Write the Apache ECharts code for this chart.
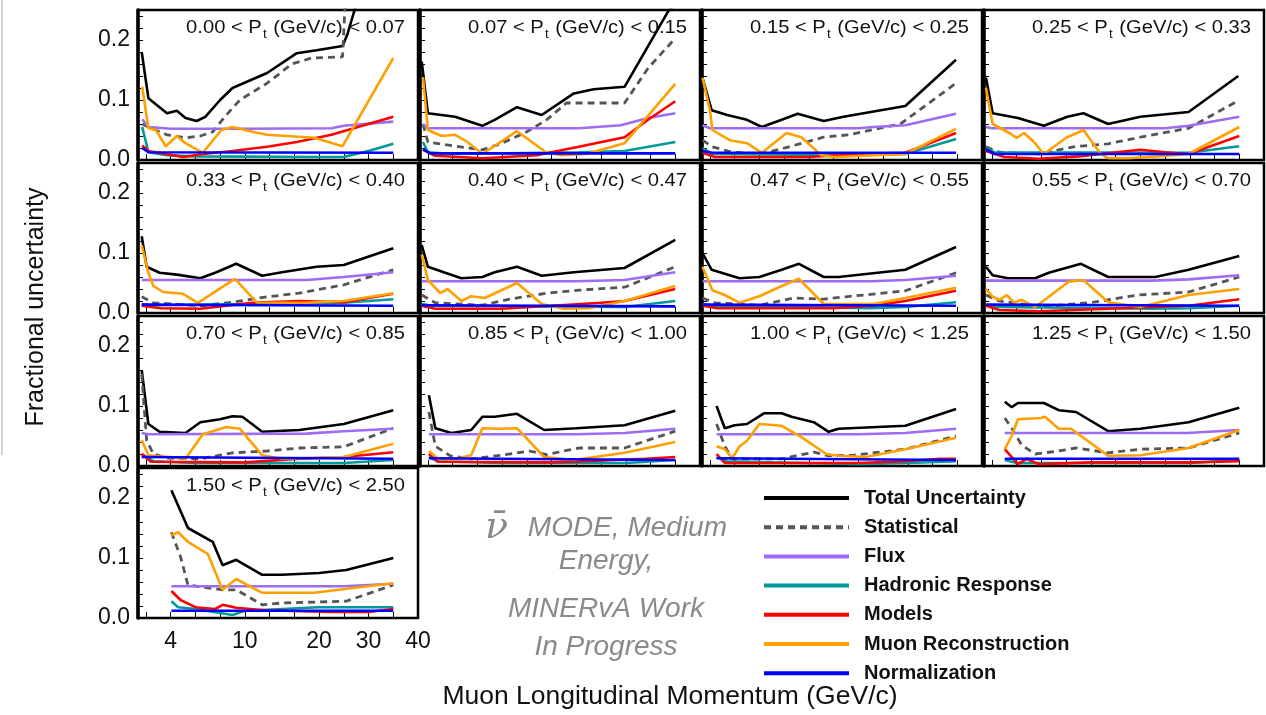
<!DOCTYPE html>
<html>
<head>
<meta charset="utf-8">
<title>Fractional uncertainty vs muon longitudinal momentum</title>
<script src="https://cdn.jsdelivr.net/npm/echarts@6/dist/echarts.min.js"></script>
<style>
  html, body { margin: 0; padding: 0; background: #fff; }
  #chart { width: 1266px; height: 715px; }
</style>
</head>
<body>
<div id="chart"></div>
<script>
// Pt bin edges, one panel per bin
var ptEdges = ['0.00', '0.07', '0.15', '0.25', '0.33', '0.40', '0.47', '0.55', '0.70', '0.85', '1.00', '1.25', '1.50', '2.50'];

var seriesNames = ['Total Uncertainty', 'Statistical', 'Flux', 'Hadronic Response', 'Models', 'Muon Reconstruction', 'Normalization'];
var seriesColors = ['#000000', '#555555', '#9d6cf4', '#009a9a', '#ff0000', '#ffa000', '#0000ff'];

// x axis is in bin-position units (tick i = bin edge i)
var xTickPos = [0, 1, 2, 3, 4, 5, 6, 7, 8, 9, 10];
var xLabelPos = [1, 4, 7, 9, 11];
var xTickLabels = ['4', '10', '20', '30', '40'];
var yLabelValues = [0, 0.1, 0.2];

// [bin position, fractional uncertainty], one list per panel
var totalUnc = [
  [[-0.17,0.18],[0.1,0.103],[0.85,0.078],[1.25,0.082],[1.6,0.07],[2.05,0.065],[2.4,0.072],[3,0.1],[3.5,0.12],[4.9,0.145],[6.1,0.178],[6.9,0.183],[7.95,0.19],[8.15,0.21],[8.4,0.245],[8.6,0.27]],
  [[-0.25,0.164],[0,0.078],[0.55,0.075],[1.1,0.072],[2.2,0.057],[2.7,0.067],[3.6,0.088],[4.6,0.075],[5.9,0.111],[6.7,0.118],[7.95,0.122],[9.7,0.247],[10,0.26]],
  [[-0.3,0.137],[0.07,0.083],[0.7,0.075],[1.5,0.067],[2.1,0.055],[2.9,0.067],[3.55,0.077],[4.6,0.065],[5.4,0.072],[7.9,0.09],[9.95,0.167]],
  [[-0.24,0.137],[0.03,0.078],[1.05,0.07],[2.1,0.057],[3.05,0.072],[3.7,0.078],[4.7,0.06],[6,0.072],[7.95,0.08],[9.96,0.14]],
  [[-0.17,0.128],[0.03,0.077],[0.55,0.067],[1.25,0.064],[2.2,0.058],[2.85,0.068],[3.65,0.082],[4.7,0.062],[5.5,0.068],[6.9,0.077],[8,0.08],[10,0.108]],
  [[-0.25,0.113],[0,0.077],[0.7,0.067],[1.35,0.058],[2.2,0.06],[2.7,0.068],[3.6,0.077],[4.6,0.062],[5.9,0.068],[7.95,0.075],[10,0.122]],
  [[-0.3,0.1],[0.07,0.072],[0.7,0.064],[1.2,0.058],[2,0.06],[2.9,0.072],[3.6,0.082],[4.6,0.06],[5.2,0.06],[7.9,0.072],[9.95,0.11]],
  [[-0.24,0.077],[0.03,0.063],[0.65,0.058],[1.75,0.058],[2.3,0.067],[3.6,0.082],[4.7,0.06],[6.6,0.06],[7.95,0.072],[10,0.095]],
  [[-0.17,0.16],[0.1,0.07],[0.55,0.057],[1.6,0.055],[2.2,0.073],[3,0.078],[3.5,0.083],[3.9,0.082],[4.7,0.057],[6.2,0.06],[8,0.07],[10,0.093]],
  [[0.04,0.118],[0.3,0.063],[0.95,0.055],[1.75,0.06],[2.2,0.082],[2.7,0.082],[3.6,0.087],[4.7,0.06],[6,0.063],[7.95,0.068],[10,0.092]],
  [[0.27,0.1],[0.6,0.063],[1,0.068],[1.5,0.07],[2.2,0.088],[2.9,0.088],[3.3,0.082],[4.2,0.073],[4.8,0.057],[5.2,0.062],[7.9,0.067],[9.95,0.095]],
  [[0.52,0.107],[0.8,0.098],[1.05,0.105],[2.1,0.105],[2.7,0.093],[3.4,0.09],[4.7,0.058],[6,0.062],[7.95,0.073],[10,0.097]],
  [[1.03,0.213],[1.7,0.15],[2.7,0.127],[3.1,0.088],[3.65,0.097],[4.7,0.072],[5.5,0.072],[7,0.075],[8.1,0.08],[10,0.1]]
];

var statUnc = [
  [[-0.15,0.06],[0.1,0.055],[0.85,0.042],[1.6,0.037],[2.2,0.04],[2.7,0.047],[3.25,0.075],[3.8,0.1],[4.9,0.128],[5.9,0.16],[6.7,0.17],[7.95,0.172],[8.1,0.3]],
  [[-0.2,0.06],[0,0.03],[1.1,0.023],[2.2,0.017],[3,0.028],[4,0.047],[4.8,0.067],[5.6,0.095],[7.95,0.095],[8.9,0.153],[10,0.203]],
  [[-0.3,0.033],[0.1,0.022],[0.9,0.013],[2.1,0.01],[3.2,0.022],[4.6,0.038],[5.6,0.042],[7.7,0.06],[9.95,0.128]],
  [[-0.24,0.022],[0.3,0.013],[1.9,0.01],[3.3,0.022],[4.7,0.027],[6,0.038],[7.95,0.053],[9.7,0.093],[10,0.1]],
  [[-0.17,0.027],[0.3,0.017],[2.2,0.012],[3.5,0.018],[4.9,0.027],[6.2,0.033],[8,0.047],[10,0.072]],
  [[-0.25,0.03],[0.3,0.017],[2.2,0.013],[3.3,0.023],[4.8,0.033],[6.1,0.038],[7.95,0.043],[10,0.077]],
  [[-0.3,0.025],[0.2,0.017],[2,0.013],[3.4,0.025],[4.6,0.023],[5.5,0.027],[7.9,0.037],[9.95,0.067]],
  [[-0.24,0.03],[0.3,0.02],[0.9,0.017],[1.9,0.01],[3.3,0.015],[4.1,0.018],[5.9,0.03],[7.95,0.035],[10,0.06]],
  [[-0.17,0.153],[0.03,0.043],[0.3,0.02],[0.9,0.013],[2.2,0.012],[3.5,0.022],[4.9,0.025],[6.2,0.03],[8,0.032],[10,0.063]],
  [[0.04,0.09],[0.3,0.033],[0.9,0.017],[1.75,0.012],[3,0.018],[4.1,0.025],[4.8,0.019],[6.1,0.03],[7.95,0.03],[10,0.058]],
  [[0.27,0.07],[0.6,0.033],[0.9,0.012],[2.9,0.012],[4.2,0.023],[4.8,0.017],[5.8,0.018],[7.9,0.028],[9.95,0.05]],
  [[0.52,0.08],[0.8,0.063],[1.2,0.035],[1.75,0.02],[2.7,0.025],[3.4,0.03],[4.7,0.022],[6,0.028],[7.95,0.03],[10,0.055]],
  [[1.03,0.143],[1.4,0.102],[1.7,0.055],[3.1,0.047],[3.65,0.047],[4.7,0.022],[5.5,0.025],[8.1,0.028],[10,0.055]]
];

var fluxUnc = [
  [[-0.15,0.068],[0.1,0.055],[1,0.052],[4,0.052],[7.5,0.053],[8,0.057],[10,0.064]],
  [[-0.2,0.06],[0,0.053],[6.1,0.053],[7.8,0.058],[8.9,0.07],[10,0.078]],
  [[-0.3,0.058],[0,0.053],[6,0.053],[6.6,0.055],[7.9,0.058],[9.95,0.077]],
  [[-0.24,0.055],[0,0.053],[7,0.053],[7.95,0.057],[10,0.072]],
  [[-0.17,0.055],[6.5,0.055],[8,0.06],[10,0.068]],
  [[-0.25,0.053],[6,0.053],[7.95,0.055],[10,0.068]],
  [[-0.3,0.053],[6.5,0.053],[7.9,0.055],[9.95,0.062]],
  [[-0.24,0.054],[6.5,0.054],[7.95,0.056],[10,0.063]],
  [[-0.17,0.055],[0.1,0.053],[6.5,0.054],[8,0.058],[10,0.062]],
  [[0.04,0.053],[6,0.053],[7.95,0.055],[10,0.062]],
  [[0.27,0.053],[6,0.053],[7.9,0.055],[9.95,0.062]],
  [[0.52,0.055],[7.9,0.055],[10,0.06]],
  [[1.03,0.053],[8,0.053],[10,0.057]]
];

var hadronUnc = [
  [[-0.15,0.055],[0.1,0.013],[0.85,0.008],[2,0.006],[7,0.005],[8,0.005],[9,0.015],[10,0.027]],
  [[-0.2,0.03],[0,0.013],[1,0.01],[6.1,0.013],[7.95,0.015],[10,0.03]],
  [[-0.3,0.02],[0.1,0.01],[6,0.008],[7.9,0.01],[9.95,0.035]],
  [[-0.24,0.02],[0.1,0.013],[7.95,0.012],[10,0.023]],
  [[-0.17,0.015],[0.2,0.013],[8,0.017],[10,0.023]],
  [[-0.25,0.015],[0.2,0.012],[7.95,0.01],[10,0.02]],
  [[-0.3,0.015],[0.2,0.012],[6.5,0.008],[7.9,0.01],[9.95,0.018]],
  [[-0.24,0.013],[0.3,0.01],[6.5,0.007],[8,0.008],[10,0.012]],
  [[-0.17,0.02],[0.3,0.008],[2,0.005],[8,0.005],[10,0.01]],
  [[0.04,0.015],[0.4,0.008],[3,0.005],[8,0.005],[10,0.01]],
  [[0.27,0.015],[0.7,0.008],[6,0.003],[8,0.005],[9.95,0.008]],
  [[0.52,0.01],[1,0.005],[8,0.005],[10,0.01]],
  [[1.03,0.028],[1.3,0.018],[2,0.015],[3.5,0.005],[4,0.012],[7,0.018],[10,0.018]]
];

var modelUnc = [
  [[-0.15,0.024],[0.1,0.015],[1.5,0.005],[2.3,0.01],[3.5,0.015],[4.9,0.022],[6.1,0.03],[7.5,0.042],[10,0.072]],
  [[-0.2,0.017],[0.3,0.007],[2.2,0.003],[4.4,0.008],[6.1,0.022],[7.95,0.038],[8.9,0.067],[10,0.098]],
  [[-0.3,0.012],[0.2,0.005],[4,0.005],[6,0.01],[7.9,0.012],[9.95,0.045]],
  [[-0.24,0.015],[0.5,0.005],[1.9,0.002],[3.5,0.006],[6,0.017],[7,0.013],[7.95,0.01],[10,0.04]],
  [[-0.17,0.012],[0.6,0.008],[2.2,0.007],[4.3,0.017],[6.2,0.02],[8,0.018],[10,0.032]],
  [[-0.25,0.012],[0.3,0.007],[3,0.007],[5,0.012],[7,0.017],[7.95,0.02],[10,0.04]],
  [[-0.3,0.012],[0.3,0.008],[5,0.008],[6.6,0.012],[7.9,0.02],[9.95,0.037]],
  [[-0.24,0.012],[0.3,0.005],[1.9,0.003],[4.7,0.007],[7.95,0.012],[10,0.023]],
  [[-0.17,0.02],[0.2,0.007],[4,0.006],[6.2,0.012],[8,0.015],[10,0.023]],
  [[0.04,0.02],[0.4,0.007],[5,0.006],[8.8,0.012],[10,0.015]],
  [[0.27,0.02],[0.6,0.005],[6,0.005],[7.9,0.008],[9.3,0.012],[9.95,0.012]],
  [[0.52,0.028],[1.05,0.003],[1.4,0.012],[1.9,0.003],[4,0.006],[8,0.006],[10,0.008]],
  [[1.03,0.045],[1.4,0.03],[2,0.018],[2.8,0.015],[3.1,0.022],[3.65,0.017],[4.8,0.013],[7.5,0.01],[9,0.01],[10,0.015]]
];

var muonUnc = [
  [[-0.15,0.122],[0.1,0.053],[0.4,0.05],[0.8,0.023],[1.25,0.04],[1.6,0.028],[2.3,0.012],[3.05,0.05],[3.5,0.055],[4.3,0.047],[4.9,0.042],[6.8,0.037],[7.95,0.023],[10,0.17]],
  [[-0.2,0.138],[0,0.05],[0.55,0.04],[1.1,0.042],[1.6,0.03],[2.2,0.01],[3.6,0.048],[4.8,0.012],[5.4,0.008],[6.4,0.01],[7.95,0.028],[10,0.127]],
  [[-0.3,0.137],[0,0.083],[0.1,0.05],[0.8,0.033],[1.5,0.028],[2.1,0.012],[3.1,0.045],[3.7,0.038],[4.5,0.008],[5,0.005],[7.9,0.01],[9.95,0.052]],
  [[-0.24,0.12],[0.03,0.06],[0.7,0.045],[1,0.037],[1.3,0.045],[1.7,0.03],[2.1,0.01],[3,0.037],[3.7,0.05],[4.4,0.01],[4.7,0.003],[5.5,0.003],[6.7,0.006],[7.95,0.01],[10,0.055]],
  [[-0.17,0.113],[0.1,0.067],[0.3,0.045],[0.7,0.035],[1.5,0.032],[2.1,0.017],[3.6,0.057],[4.5,0.017],[6.5,0.017],[8,0.02],[10,0.033]],
  [[-0.25,0.097],[0,0.055],[0.5,0.033],[0.8,0.04],[1.35,0.02],[1.75,0.028],[2.3,0.025],[3.6,0.05],[4.6,0.015],[5.5,0.007],[6.5,0.008],[7.95,0.02],[10,0.045]],
  [[-0.3,0.077],[0.1,0.038],[0.6,0.03],[1.2,0.017],[2,0.028],[2.9,0.045],[3.6,0.057],[4.6,0.015],[6.6,0.015],[7.9,0.025],[9.95,0.042]],
  [[-0.24,0.04],[0.03,0.027],[0.3,0.022],[0.6,0.03],[0.9,0.017],[1.2,0.022],[1.75,0.01],[2.3,0.027],[3.1,0.052],[3.7,0.055],[4.7,0.018],[6,0.01],[7.95,0.03],[10,0.04]],
  [[-0.17,0.043],[0.1,0.018],[0.9,0.015],[1.6,0.012],[2.3,0.053],[3.25,0.065],[3.8,0.062],[4.7,0.018],[5.5,0.012],[8,0.015],[10,0.037]],
  [[0.04,0.025],[0.4,0.012],[1,0.011],[1.75,0.018],[2.2,0.063],[2.9,0.062],[3.6,0.063],[4.7,0.015],[5.9,0.01],[7.95,0.022],[10,0.04]],
  [[0.27,0.033],[0.6,0.028],[0.9,0.013],[1.2,0.033],[1.5,0.042],[2,0.07],[2.9,0.067],[3.7,0.048],[4.7,0.02],[5.2,0.017],[6.3,0.015],[7.9,0.028],[9.95,0.047]],
  [[0.52,0.028],[0.8,0.05],[1.05,0.078],[2,0.08],[2.15,0.082],[2.7,0.062],[3.2,0.062],[4.7,0.017],[6,0.018],[7.95,0.03],[10,0.06]],
  [[1.03,0.138],[1.3,0.143],[1.7,0.127],[2.5,0.107],[3.1,0.047],[3.65,0.065],[4.7,0.042],[6.8,0.042],[8.8,0.052],[10,0.058]]
];

var normUnc = [
  [[-0.15,0.02],[0.1,0.013],[10,0.012]],
  [[-0.2,0.018],[0.1,0.011],[10,0.011]],
  [[-0.3,0.015],[0.1,0.012],[9.95,0.012]],
  [[-0.24,0.018],[0.1,0.01],[10,0.01]],
  [[-0.17,0.014],[10,0.012]],
  [[-0.25,0.013],[10,0.011]],
  [[-0.3,0.014],[9.95,0.012]],
  [[-0.24,0.014],[10,0.012]],
  [[-0.17,0.015],[10,0.012]],
  [[0.04,0.013],[10,0.01]],
  [[0.27,0.013],[9.95,0.01]],
  [[0.52,0.012],[10,0.012]],
  [[1.03,0.012],[10,0.012]]
];

var allUnc = [totalUnc, statUnc, fluxUnc, hadronUnc, modelUnc, muonUnc, normUnc];

// panel layout (pixels)
var colLeft = [138, 420, 702, 984];
var rowTop = [10, 163, 316, 468];
var panelW = 280, panelH = 150;
var fontFam = '"Liberation Sans", Arial, Helvetica, sans-serif';

var grids = [], xAxes = [], yAxes = [], series = [], graphics = [];

for (var i = 0; i < ptEdges.length - 1; i++) {
  var r = Math.floor(i / 4), c = i % 4;
  grids.push({
    left: colLeft[c], top: rowTop[r], width: panelW, height: panelH,
    show: true, borderColor: '#000', borderWidth: 2.5, containLabel: false
  });
  xAxes.push({
    gridIndex: i, type: 'value', min: -0.32, max: 11,
    axisLine: { show: false, onZero: false },
    splitLine: { show: false },
    axisTick: { show: true, inside: true, length: 6, customValues: xTickPos, lineStyle: { color: '#000', width: 1 } },
    axisLabel: {
      show: i === 12, customValues: xLabelPos, margin: 12,
      fontSize: 23, color: '#111', fontFamily: fontFam,
      formatter: function (v) {
        var k = xLabelPos.indexOf(v);
        return k >= 0 ? xTickLabels[k] : '';
      }
    }
  });
  yAxes.push({
    gridIndex: i, type: 'value', min: 0, max: 0.25, interval: 0.02,
    axisLine: { show: true, onZero: false, lineStyle: { color: '#000', width: 3.5 } },
    splitLine: { show: false },
    axisTick: { show: true, inside: true, length: 5, lineStyle: { color: '#000', width: 1 } },
    axisLabel: {
      show: c === 0, customValues: yLabelValues, margin: 8,
      fontSize: 23, color: '#111', fontFamily: fontFam,
      formatter: function (v) { return v.toFixed(1); }
    }
  });
  for (var s = 0; s < seriesNames.length; s++) {
    series.push({
      name: seriesNames[s], type: 'line',
      xAxisIndex: i, yAxisIndex: i,
      data: allUnc[s][i],
      showSymbol: false, symbol: 'none', clip: true, silent: true,
      lineStyle: {
        color: seriesColors[s],
        width: s === 1 ? 2.8 : 2.6,
        type: s === 1 ? [7, 5] : 'solid'
      },
      itemStyle: { color: seriesColors[s] },
      z: 2 + s
    });
  }
  // panel Pt range label
  graphics.push({
    type: 'text', x: colLeft[c] + panelW - 13, y: rowTop[r] + 18, scaleX: 1.12, z: 20,
    style: {
      text: ptEdges[i] + ' < P{sub|t} (GeV/c) < ' + ptEdges[i + 1],
      font: '18px ' + fontFam, fill: '#111', align: 'right', verticalAlign: 'middle',
      rich: { sub: { fontSize: 12, fontFamily: fontFam, padding: [14, 1, 0, 1] } }
    }
  });
}

// axis titles and annotation
graphics.push({
  type: 'text', x: 36, y: 307, rotation: Math.PI / 2,
  style: { text: 'Fractional uncertainty', font: '25px ' + fontFam, fill: '#111', align: 'center', verticalAlign: 'middle' }
});
graphics.push({
  type: 'text', x: 670, y: 697,
  style: { text: 'Muon Longitudinal Momentum (GeV/c)', font: '26.5px ' + fontFam, fill: '#111', align: 'center', verticalAlign: 'middle' }
});
var noteLines = ['{nu|\u03BD\u0304} MODE, Medium', 'Energy,', 'MINERvA Work', 'In Progress'];
var noteY = [528, 561, 609, 647];
noteLines.forEach(function (t, k) {
  graphics.push({
    type: 'text', x: 606, y: noteY[k],
    style: {
      text: t, font: 'italic 28px ' + fontFam, fill: '#8a8a8a', align: 'center', verticalAlign: 'middle',
      rich: { nu: { fontSize: 38, fontFamily: '"DejaVu Serif", serif', fontStyle: 'italic', fill: '#8a8a8a', padding: [0, 12, 0, 0] } }
    }
  });
});
graphics.push({
  type: 'line', shape: { x1: 2, y1: 0, x2: 2, y2: 455 },
  style: { stroke: '#c4c4c4', lineWidth: 1.5 }
});

var chart = echarts.init(document.getElementById('chart'), null, { renderer: 'canvas' });
chart.setOption({
  animation: false,
  backgroundColor: '#fff',
  legend: {
    data: seriesNames, orient: 'vertical', left: 762, top: 488, padding: 0,
    itemWidth: 85, itemHeight: 14, itemGap: 9.2,
    selectedMode: false,
    itemStyle: { opacity: 0 },
    lineStyle: { width: 4 },
    textStyle: { fontSize: 20, fontWeight: 'bold', color: '#111', fontFamily: fontFam, padding: [0, 0, 0, 10] }
  },
  grid: grids,
  xAxis: xAxes,
  yAxis: yAxes,
  series: series,
  graphic: graphics
});
</script>
</body>
</html>
